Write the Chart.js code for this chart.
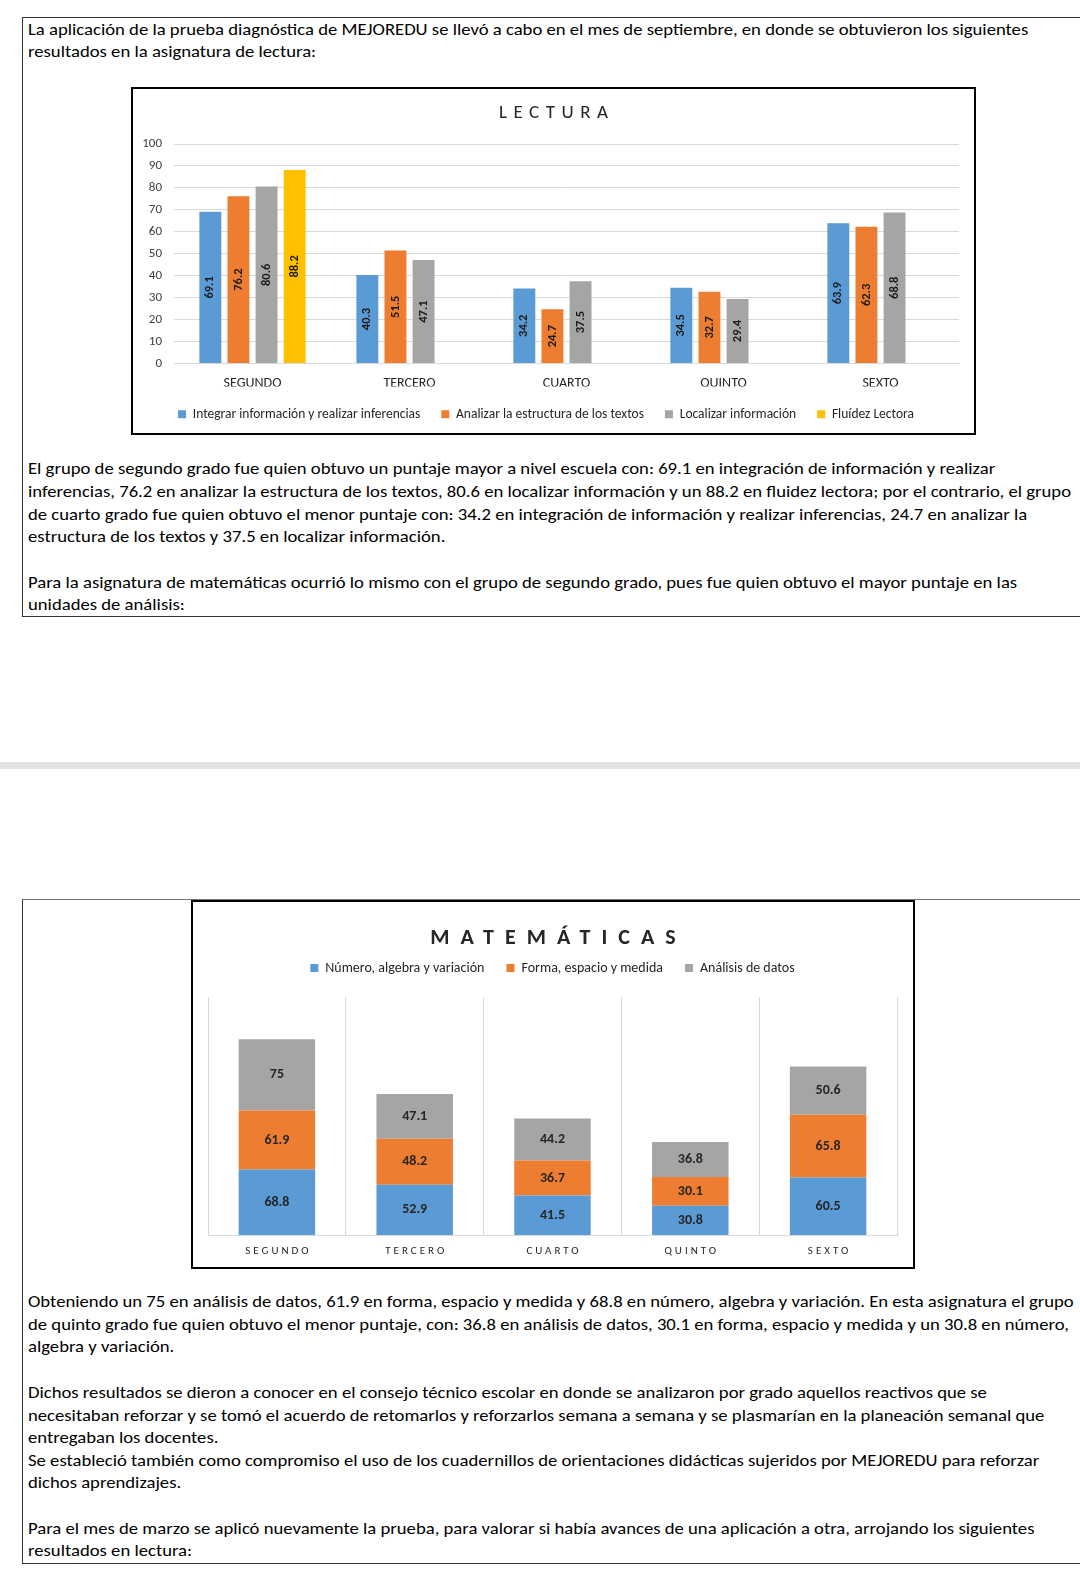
<!DOCTYPE html>
<html>
<head>
<meta charset="utf-8">
<script src="https://cdn.jsdelivr.net/npm/chart.js@4.4.1/dist/chart.umd.min.js"></script>
<style>
  body { margin: 0; width: 1080px; height: 1579px; background: #fff; position: relative; overflow: hidden;
         font-family: Carlito, Calibri, Lato, sans-serif; }
  .caja { position: absolute; left: 22px; width: 1100px; border: 1px solid #333; box-sizing: border-box; }
  .t { position: absolute; left: 28px; white-space: nowrap; font-size: 17px; line-height: 22px; color: #000; transform-origin: 0 50%; }
  .banda { position: absolute; left: 0; width: 1080px; top: 762px; height: 7px; background: #e4e4e4; }
  .grafica { position: absolute; border: 2px solid #000; box-sizing: border-box; background: #fff; }
  .grafica > div { position: relative; width: 100%; height: 100%; }
</style>
</head>
<body>
<div class="caja" style="top:17px;height:600px"></div>
<div class="banda"></div>
<div class="caja" style="top:899px;height:665px;border-top-color:#777"></div>

<div class="t" style="top:19px">La aplicación de la prueba diagnóstica de MEJOREDU se llevó a cabo en el mes de septiembre, en donde se obtuvieron los siguientes</div>
<div class="t" style="top:41px">resultados en la asignatura de lectura:</div>
<div class="t" style="top:458px">El grupo de segundo grado fue quien obtuvo un puntaje mayor a nivel escuela con: 69.1 en integración de información y realizar</div>
<div class="t" id="lineaRef" style="top:481px">inferencias, 76.2 en analizar la estructura de los textos, 80.6 en localizar información y un 88.2 en fluidez lectora; por el contrario, el grupo</div>
<div class="t" style="top:504px">de cuarto grado fue quien obtuvo el menor puntaje con: 34.2 en integración de información y realizar inferencias, 24.7 en analizar la</div>
<div class="t" style="top:526px">estructura de los textos y 37.5 en localizar información.</div>
<div class="t" style="top:572px">Para la asignatura de matemáticas ocurrió lo mismo con el grupo de segundo grado, pues fue quien obtuvo el mayor puntaje en las</div>
<div class="t" style="top:594px">unidades de análisis:</div>

<div class="t" style="top:1291px">Obteniendo un 75 en análisis de datos, 61.9 en forma, espacio y medida y 68.8 en número, algebra y variación. En esta asignatura el grupo</div>
<div class="t" style="top:1314px">de quinto grado fue quien obtuvo el menor puntaje, con: 36.8 en análisis de datos, 30.1 en forma, espacio y medida y un 30.8 en número,</div>
<div class="t" style="top:1336px">algebra y variación.</div>
<div class="t" style="top:1382px">Dichos resultados se dieron a conocer en el consejo técnico escolar en donde se analizaron por grado aquellos reactivos que se</div>
<div class="t" style="top:1405px">necesitaban reforzar y se tomó el acuerdo de retomarlos y reforzarlos semana a semana y se plasmarían en la planeación semanal que</div>
<div class="t" style="top:1427px">entregaban los docentes.</div>
<div class="t" style="top:1450px">Se estableció también como compromiso el uso de los cuadernillos de orientaciones didácticas sujeridos por MEJOREDU para reforzar</div>
<div class="t" style="top:1472px">dichos aprendizajes.</div>
<div class="t" style="top:1518px">Para el mes de marzo se aplicó nuevamente la prueba, para valorar si había avances de una aplicación a otra, arrojando los siguientes</div>
<div class="t" style="top:1540px">resultados en lectura:</div>

<div class="grafica" style="left:131px;top:87px;width:845px;height:348px"><div><canvas id="lectura"></canvas></div></div>
<div class="grafica" style="left:191px;top:900px;width:724px;height:369px"><div><canvas id="mate"></canvas></div></div>

<script>
// datos - lectura
const grados = ['SEGUNDO', 'TERCERO', 'CUARTO', 'QUINTO', 'SEXTO'];
const integrar = [69.1, 40.3, 34.2, 34.5, 63.9];
const analizar = [76.2, 51.5, 24.7, 32.7, 62.3];
const localizar = [80.6, 47.1, 37.5, 29.4, 68.8];
const fluidez = [88.2, null, null, null, null];

// datos - matematicas
const numero = [68.8, 52.9, 41.5, 30.8, 60.5];
const forma = [61.9, 48.2, 36.7, 30.1, 65.8];
const analisis = [75, 47.1, 44.2, 36.8, 50.6];

const FUENTE = "Carlito, Calibri, Lato, sans-serif";
const AZUL = '#5b9bd5', NARANJA = '#ed7d31', GRIS = '#a5a5a5', AMARILLO = '#ffc000';

Chart.defaults.font.family = FUENTE;
Chart.defaults.animation = false;

// escala horizontal del texto para que las lineas midan lo mismo que en el documento
const ref = document.getElementById('lineaRef');
const k = 1043 / ref.getBoundingClientRect().width;
document.querySelectorAll('.t').forEach(function (l) { l.style.transform = 'scaleX(' + k + ')'; });

// titulo con letras espaciadas
const tituloEspaciado = {
    id: 'tituloEspaciado',
    afterDraw(chart, args, o) {
        const ctx = chart.ctx;
        ctx.save();
        ctx.font = o.font;
        ctx.letterSpacing = o.espacio + 'px';
        ctx.fillStyle = o.color;
        ctx.textAlign = 'center';
        ctx.textBaseline = 'middle';
        ctx.fillText(o.texto, chart.width / 2 + o.espacio / 2, o.y);
        ctx.restore();
    }
};

// etiquetas de valor dentro de las barras
const etiquetas = {
    id: 'etiquetas',
    afterDatasetsDraw(chart, args, o) {
        const ctx = chart.ctx;
        chart.data.datasets.forEach(function (ds, i) {
            chart.getDatasetMeta(i).data.forEach(function (bar, j) {
                const v = ds.data[j];
                if (v == null) return;
                ctx.save();
                ctx.translate(bar.x, (bar.y + bar.base) / 2);
                if (o.rotar) ctx.rotate(-Math.PI / 2);
                ctx.font = o.font;
                ctx.fillStyle = o.color;
                ctx.textAlign = 'center';
                ctx.textBaseline = 'middle';
                ctx.fillText(String(v), 0, 0);
                ctx.restore();
            });
        });
    }
};

// categorias con letras espaciadas (matematicas)
const ejeEspaciado = {
    id: 'ejeEspaciado',
    afterDraw(chart, args, o) {
        const ctx = chart.ctx, x = chart.scales.x;
        ctx.save();
        ctx.font = o.font;
        ctx.letterSpacing = o.espacio + 'px';
        ctx.fillStyle = o.color;
        ctx.textAlign = 'center';
        ctx.textBaseline = 'middle';
        chart.data.labels.forEach(function (lab, i) {
            ctx.fillText(lab, x.getPixelForTick(i) + o.espacio / 2, chart.chartArea.bottom + o.offset);
        });
        ctx.restore();
    }
};

// espacio extra bajo la leyenda
const leyendaAlta = {
    id: 'leyendaAlta',
    beforeUpdate(chart, args, o) {
        const lg = chart.legend;
        if (!lg || lg._alta) return;
        const fit = lg.fit;
        lg.fit = function () { fit.call(this); this.height += o.extra; };
        lg._alta = true;
    }
};

new Chart(document.getElementById('lectura'), {
    type: 'bar',
    data: {
        labels: grados,
        datasets: [
            { label: 'Integrar información y realizar inferencias', data: integrar, backgroundColor: AZUL },
            { label: 'Analizar la estructura de los textos', data: analizar, backgroundColor: NARANJA },
            { label: 'Localizar información', data: localizar, backgroundColor: GRIS },
            { label: 'Fluídez Lectora', data: fluidez, backgroundColor: AMARILLO }
        ]
    },
    options: {
        responsive: true,
        maintainAspectRatio: false,
        categoryPercentage: 0.716,
        barPercentage: 0.78,
        layout: { padding: { top: 55, left: 0, right: 15, bottom: 2 } },
        scales: {
            x: {
                grid: { display: false, drawTicks: false },
                border: { color: '#d9d9d9' },
                ticks: { color: '#262626', font: { size: 14 }, padding: 11.5 },
                afterFit(s) { s.height = 23; }
            },
            y: {
                min: 0, max: 100,
                ticks: { stepSize: 10, color: '#404040', font: { size: 13 }, padding: 12 },
                grid: { color: '#d9d9d9', drawTicks: false },
                border: { display: false },
                afterFit(s) { s.width = 41; }
            }
        },
        plugins: {
            legend: {
                position: 'bottom',
                labels: { boxWidth: 8, boxHeight: 8, padding: 21, color: '#262626', font: { size: 13.5 } }
            },
            tooltip: { enabled: false },
            tituloEspaciado: { texto: 'LECTURA', font: '19px ' + FUENTE, espacio: 6.5, color: '#262626', y: 24 },
            etiquetas: { rotar: true, font: 'bold 12.5px ' + FUENTE, color: '#1a1a1a' }
        }
    },
    plugins: [tituloEspaciado, etiquetas]
});

new Chart(document.getElementById('mate'), {
    type: 'bar',
    data: {
        labels: grados,
        datasets: [
            { label: 'Número, algebra y variación', data: numero, backgroundColor: AZUL },
            { label: 'Forma, espacio y medida', data: forma, backgroundColor: NARANJA },
            { label: 'Análisis de datos', data: analisis, backgroundColor: GRIS }
        ]
    },
    options: {
        responsive: true,
        maintainAspectRatio: false,
        categoryPercentage: 1,
        barPercentage: 0.555,
        layout: { padding: { top: 37, left: 15, right: 16, bottom: 0 } },
        scales: {
            x: {
                stacked: true,
                grid: { color: '#d9d9d9', drawTicks: false },
                border: { color: '#d9d9d9' },
                ticks: { color: 'rgba(0,0,0,0)', font: { size: 11 }, padding: 9 },
                afterFit(s) { s.height = 32; }
            },
            y: { stacked: true, display: false, min: 0, max: 250 }
        },
        plugins: {
            legend: {
                position: 'top',
                labels: { boxWidth: 8, boxHeight: 8, padding: 22, color: '#262626', font: { size: 14 } }
            },
            leyendaAlta: { extra: 12 },
            tooltip: { enabled: false },
            tituloEspaciado: { texto: 'MATEMÁTICAS', font: 'bold 22px ' + FUENTE, espacio: 11, color: '#262626', y: 36 },
            etiquetas: { rotar: false, font: 'bold 14px ' + FUENTE, color: '#262626' },
            ejeEspaciado: { font: '11px ' + FUENTE, espacio: 3, color: '#262626', offset: 16 }
        }
    },
    plugins: [leyendaAlta, tituloEspaciado, etiquetas, ejeEspaciado]
});
</script>
</body>
</html>
